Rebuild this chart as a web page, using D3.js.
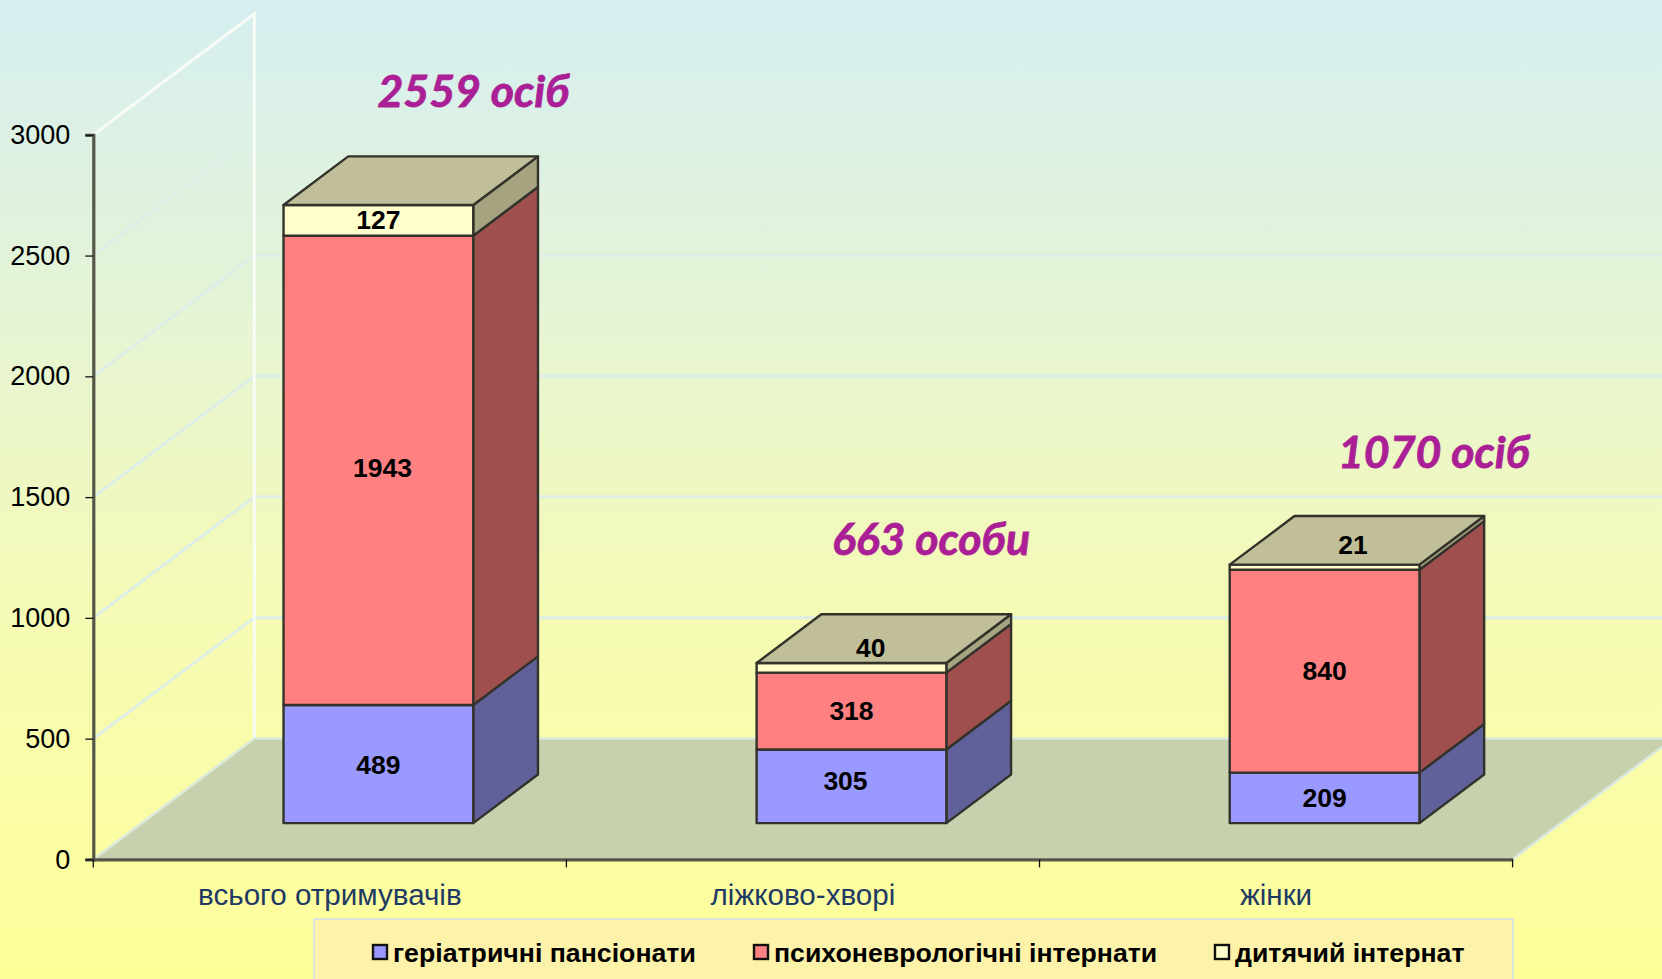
<!DOCTYPE html>
<html>
<head>
<meta charset="utf-8">
<script src="https://cdn.jsdelivr.net/npm/d3@7"></script>
<style>
  html, body { margin: 0; padding: 0; background: #ffff99; overflow: hidden; }
  svg { display: block; }
</style>
</head>
<body>
<script>
const categories = ['всього отримувачів', 'ліжково-хворі', 'жінки'];
const geriatric = [489, 305, 209];
const psycho = [1943, 318, 840];
const children = [127, 40, 21];
const seriesNames = ['геріатричні пансіонати', 'психоневрологічні інтернати', 'дитячий інтернат'];
const seriesKeys = ['geriatric', 'psycho', 'children'];
const totals = ['2559 осіб', '663 особи', '1070 осіб'];
const yTicks = [0, 500, 1000, 1500, 2000, 2500, 3000];

const width = 1662;
const height = 979;

// front-left corner of the 3d box is the axis origin, the floor goes back by depth
const depth = { dx: 161, dy: 121 };
const front = { left: 93.3, right: 1512.6, bottom: 859.4, top: 134.8 };

const colors = {
  geriatric: { front: '#9999ff', side: '#60609b', top: '#c0bf99' },
  psycho: { front: '#ff8080', side: '#a04f50', top: '#c0bf99' },
  children: { front: '#ffffcc', side: '#a5a380', top: '#c0bf99' }
};

const svg = d3.select('body')
  .append('svg')
  .attr('width', width)
  .attr('height', height);

const defs = svg.append('defs');
const bg = defs.append('linearGradient')
  .attr('id', 'bg')
  .attr('x1', 0).attr('y1', 0).attr('x2', 0).attr('y2', 1);
bg.append('stop').attr('offset', '0%').attr('stop-color', '#d6eef1');
bg.append('stop').attr('offset', '35%').attr('stop-color', '#e7f5d2');
bg.append('stop').attr('offset', '62%').attr('stop-color', '#f5fab5');
bg.append('stop').attr('offset', '100%').attr('stop-color', '#ffff99');

defs.append('filter')
  .attr('id', 'soft')
  .append('feGaussianBlur')
  .attr('stdDeviation', 0.7);

svg.append('rect')
  .attr('width', width)
  .attr('height', height)
  .attr('fill', 'url(#bg)');

const x = d3.scaleBand()
  .domain(categories)
  .range([front.left, front.right]);

const y = d3.scaleLinear()
  .domain([0, 3000])
  .range([front.bottom, front.top]);

// z is 0 at the front of the floor, 1 at the back wall
function pt(px, value, z) {
  return [px + z * depth.dx, y(value) - z * depth.dy];
}

const line = d3.line();

// walls
const walls = svg.append('g').attr('filter', 'url(#soft)');

walls.selectAll('line.side')
  .data(yTicks.slice(1))
  .enter()
  .append('path')
  .attr('d', d => line([pt(front.left, d, 0), pt(front.left, d, 1), [width + 20, y(d) - depth.dy]]))
  .attr('fill', 'none')
  .attr('stroke', '#dcEEE6')
  .attr('stroke-opacity', d => d === 3000 ? 0.4 : 1)
  .attr('stroke-width', 3);

walls.append('path')
  .attr('d', line([pt(front.left, 3000, 0), pt(front.left, 3000, 1), pt(front.left, 0, 1)]))
  .attr('fill', 'none')
  .attr('stroke', '#f8fcf6')
  .attr('stroke-width', 3);

// floor
walls.append('path')
  .attr('d', line([
    pt(front.left, 0, 0), pt(front.left, 0, 1),
    pt(front.right, 0, 1), pt(front.right, 0, 0)
  ]) + 'Z')
  .attr('fill', '#c8d1ae')
  .attr('stroke', '#dcebdc')
  .attr('stroke-width', 2.5);

// axes
const yAxis = d3.axisLeft(y)
  .tickValues(yTicks)
  .tickFormat(d3.format('d'))
  .tickSize(8)
  .tickPadding(15);

const yG = svg.append('g')
  .attr('transform', `translate(${front.left},0)`)
  .call(yAxis);
yG.select('.domain').attr('stroke', '#555548').attr('stroke-width', 3.2);
yG.selectAll('.tick line').attr('stroke', '#111').attr('stroke-width', 1.3);
yG.selectAll('.tick text')
  .attr('font-family', '"Liberation Sans"')
  .attr('font-size', 27)
  .attr('fill', '#000');

const xAxis = d3.axisBottom(x)
  .tickSize(0)
  .tickPadding(25);

const xG = svg.append('g')
  .attr('transform', `translate(0,${front.bottom})`)
  .call(xAxis);
xG.select('.domain').attr('stroke', '#555548').attr('stroke-width', 3.2);
xG.selectAll('.tick text')
  .attr('font-family', '"Liberation Sans"')
  .attr('font-size', 29.6)
  .attr('fill', '#1f3a64');

xG.selectAll('line.edge')
  .data([...categories.map(c => x(c)), front.right])
  .enter()
  .append('line')
  .attr('x1', d => d)
  .attr('x2', d => d)
  .attr('y1', 0)
  .attr('y2', 8)
  .attr('stroke', '#111')
  .attr('stroke-width', 1.3);

// stacked 3d bars
const rows = categories.map((c, i) => ({
  category: c,
  geriatric: geriatric[i],
  psycho: psycho[i],
  children: children[i]
}));
const stacked = d3.stack().keys(seriesKeys)(rows);

const zFront = 0.3;
const zBack = 0.702;
const barWidth = x.bandwidth() * 0.401;
const barLeft = d => x(d) + x.bandwidth() / 2 - x.bandwidth() * 0.2;

const bars = svg.append('g')
  .attr('filter', 'url(#soft)')
  .attr('stroke', '#33332a')
  .attr('stroke-width', 2.4)
  .attr('stroke-linejoin', 'round');

stacked.forEach((layer) => {
  layer.forEach((seg) => {
    const c = seg.data.category;
    const xl = barLeft(c);
    const xr = xl + barWidth;
    const col = colors[layer.key];

    bars.append('path')
      .attr('d', line([pt(xr, seg[0], zFront), pt(xr, seg[0], zBack), pt(xr, seg[1], zBack), pt(xr, seg[1], zFront)]) + 'Z')
      .attr('fill', col.side);
    bars.append('path')
      .attr('d', line([pt(xl, seg[0], zFront), pt(xr, seg[0], zFront), pt(xr, seg[1], zFront), pt(xl, seg[1], zFront)]) + 'Z')
      .attr('fill', col.front);
    if (layer.key === 'children') {
      bars.append('path')
        .attr('d', line([pt(xl, seg[1], zFront), pt(xr, seg[1], zFront), pt(xr, seg[1], zBack), pt(xl, seg[1], zBack)]) + 'Z')
        .attr('fill', col.top);
    }
  });
});

// data labels, hand placed in the original so a few are nudged
const nudge = { 1943: [4, -2], 305: [-6, -5], 40: [-13, 9], 21: [-4, 5], 489: [0, 1] };
const labels = svg.append('g')
  .attr('font-family', '"Liberation Sans"')
  .attr('font-weight', 'bold')
  .attr('font-size', 26.5)
  .attr('fill', '#000')
  .attr('text-anchor', 'middle')
  .attr('dominant-baseline', 'central');

stacked.forEach((layer) => {
  labels.selectAll(null)
    .data(layer)
    .enter()
    .append('text')
    .attr('transform', (seg) => {
      const value = seg[1] - seg[0];
      const cx = barLeft(seg.data.category) + barWidth / 2;
      // thin slices carry their label on the lid
      const p = value <= 40
        ? pt(cx, seg[1], (zFront + zBack) / 2)
        : pt(cx, (seg[0] + seg[1]) / 2, zFront);
      const n = nudge[value] || [0, 0];
      return `translate(${p[0] + n[0]},${p[1] + n[1]})`;
    })
    .text(seg => seg[1] - seg[0]);
});

// totals above the bars
const totalPos = [[473.5, 89], [931, 537], [1434, 450]];
svg.append('g')
  .selectAll('text')
  .data(totals)
  .enter()
  .append('text')
  .attr('x', (d, i) => totalPos[i][0])
  .attr('y', (d, i) => totalPos[i][1])
  .attr('text-anchor', 'middle')
  .attr('dominant-baseline', 'central')
  .attr('font-family', 'Lato, "Open Sans"')
  .attr('font-weight', 'bold')
  .attr('font-style', 'italic')
  .attr('font-size', 44.6)
  .attr('fill', '#ab1f96')
  .attr('stroke', '#ab1f96')
  .attr('stroke-width', 0.8)
  .text(d => d);

// legend
const legend = svg.append('g');
legend.append('rect')
  .attr('x', 314)
  .attr('y', 919)
  .attr('width', 1199)
  .attr('height', 70)
  .attr('fill', '#fdf2a9')
  .attr('stroke', '#cfe0ec')
  .attr('stroke-width', 1.5);

const legendX = [373, 754, 1215];
const item = legend.selectAll('g.item')
  .data(seriesKeys)
  .enter()
  .append('g')
  .attr('class', 'item')
  .attr('transform', (d, i) => `translate(${legendX[i]},945)`);
item.append('rect')
  .attr('width', 14)
  .attr('height', 14)
  .attr('fill', d => colors[d].front)
  .attr('stroke', '#111')
  .attr('stroke-width', 2.4);
item.append('text')
  .attr('x', 20)
  .attr('y', 8)
  .attr('dominant-baseline', 'central')
  .attr('font-family', '"Liberation Sans"')
  .attr('font-weight', 'bold')
  .attr('font-size', 26.7)
  .attr('fill', '#000')
  .text((d, i) => seriesNames[i]);
</script>
</body>
</html>
